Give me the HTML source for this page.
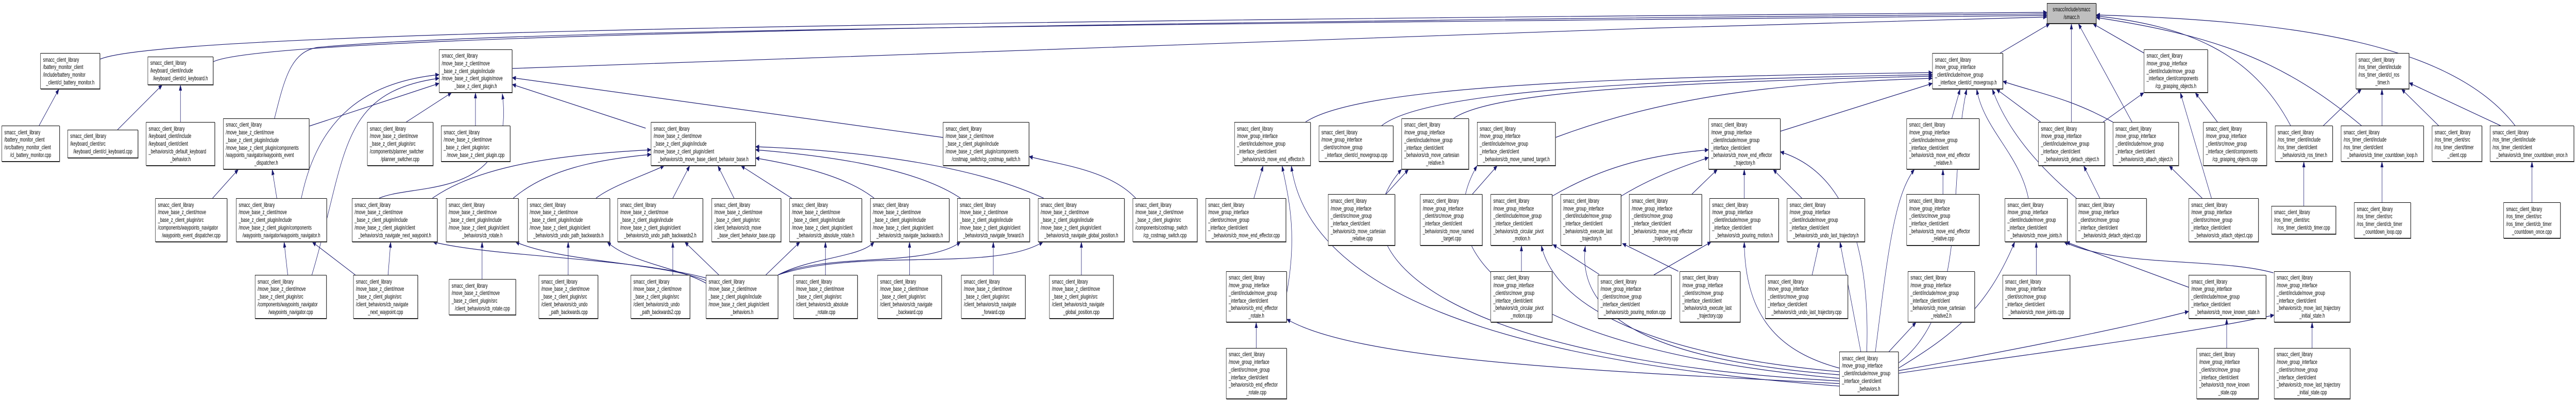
<!DOCTYPE html>
<html><head><meta charset="utf-8">
<style>
html,body{margin:0;padding:0;background:#fff;width:100%;height:100%;overflow:hidden;}
#root{position:fixed;left:0;top:0;width:100vw;height:100vh;display:block;}
.w{position:relative;width:7780px;height:777px;font-family:"Liberation Sans",Arial,sans-serif;}
.n{position:absolute;box-sizing:border-box;border:1px solid #000;box-shadow:1px 1px 0 #555;background:#fff;display:flex;flex-direction:column;justify-content:center;font-size:12px;line-height:14.7px;color:#000;white-space:nowrap;overflow:hidden;}
.n .l{padding-left:7px;}
.n .c{text-align:center;}
</style></head><body>
<svg id="root" viewBox="0 0 7780 777" preserveAspectRatio="none" xmlns="http://www.w3.org/2000/svg">
<defs><marker id="a" markerWidth="12" markerHeight="9" refX="11" refY="4.5" orient="auto" markerUnits="userSpaceOnUse"><path d="M0,0 L12,4.5 L0,9 z" fill="#191970"/></marker></defs>
<rect x="0" y="0" width="7780" height="777" fill="#fff"/>
<g fill="none" stroke="#191970" stroke-width="1.2" marker-end="url(#a)">
<path d="M302,115 C500,60 3000,40 6182,24"/>
<path d="M644,120 C800,70 3000,45 6182,27"/>
<path d="M829,230 C860,150 880,100 960,92 C1500,60 3000,50 6182,30"/>
<path d="M1547,133 C2500,110 4500,60 6182,33"/>
<path d="M118,244 L178,173"/>
<path d="M355,252 L490,165"/>
<path d="M545,237 L545,165"/>
<path d="M642,385 L720,329"/>
<path d="M836,385 L822,329"/>
<path d="M869,534 L858,470"/>
<path d="M1073,534 L943,470"/>
<path d="M1172,534 L1180,470"/>
<path d="M1456,542 L1456,470"/>
<path d="M1716,534 L1716,470"/>
<path d="M2032,534 L2032,470"/>
<path d="M1227,237 L1364,180"/>
<path d="M1436,244 L1436,180"/>
<path d="M934,245 L1326,162"/>
<path d="M910,385 C960,230 1100,160 1326,145"/>
<path d="M942,534 C1050,300 1020,180 1326,152"/>
<path d="M1145,385 C1250,355 1560,390 1517,182"/>
<path d="M1950,249 L1547,164"/>
<path d="M2848,267 L1547,151"/>
<path d="M1306,385 C1450,320 1700,300 1966,291"/>
<path d="M1550,385 C1650,330 1800,310 1966,300"/>
<path d="M1800,385 C1850,360 1950,340 2006,322"/>
<path d="M2032,385 L2083,322"/>
<path d="M2217,385 L2168,322"/>
<path d="M2391,385 L2238,322"/>
<path d="M2640,385 C2550,340 2400,320 2282,307"/>
<path d="M2901,385 C2750,320 2450,300 2282,291"/>
<path d="M3152,385 C2900,310 2500,290 2282,285"/>
<path d="M2171,534 L2068,470"/>
<path d="M2132,540 C1900,500 1500,500 1308,470"/>
<path d="M2132,545 C2000,510 1700,510 1557,470"/>
<path d="M2132,550 C2050,520 1900,510 1834,470"/>
<path d="M2313,534 L2416,470"/>
<path d="M2350,534 C2450,500 2600,500 2640,470"/>
<path d="M2350,534 C2500,490 2800,520 2901,470"/>
<path d="M2350,534 C2600,480 3000,530 3150,470"/>
<path d="M2493,534 L2493,470"/>
<path d="M2747,534 L2747,470"/>
<path d="M3000,534 L3000,470"/>
<path d="M3266,534 L3266,470"/>
<path d="M3430,385 C3350,330 3200,320 3108,304"/>
<path d="M6041,103 L6191,46"/>
<path d="M3943,237 C4100,170 4800,150 5836,141"/>
<path d="M4173,244 C4300,180 4900,155 5836,145"/>
<path d="M4390,230 C4500,180 5000,160 5836,148"/>
<path d="M4698,267 C5100,170 5500,160 5836,152"/>
<path d="M5377,255 L5836,162"/>
<path d="M5895,230 L5920,173"/>
<path d="M6126,385 C6100,300 5990,250 5970,173"/>
<path d="M6271,385 C6150,320 6060,250 6017,173"/>
<path d="M6163,237 L6029,173"/>
<path d="M6381,237 C6250,190 6150,180 6049,158"/>
<path d="M6256,237 L6256,46"/>
<path d="M6439,237 L6277,46"/>
<path d="M6475,103 L6321,46"/>
<path d="M6352,237 L6475,180"/>
<path d="M6342,385 L6293,322"/>
<path d="M6651,385 L6551,322"/>
<path d="M6679,385 L6585,180"/>
<path d="M6697,237 L6630,180"/>
<path d="M6150,534 L6150,470"/>
<path d="M6610,558 L6240,470"/>
<path d="M6866,530 C6700,500 6400,520 6234,470"/>
<path d="M6725,676 L6725,619"/>
<path d="M6983,676 L6983,626"/>
<path d="M7017,244 L7132,173"/>
<path d="M7194,244 L7194,173"/>
<path d="M7365,244 L7253,173"/>
<path d="M7552,244 L7276,161"/>
<path d="M6918,244 C6800,100 6600,50 6331,31"/>
<path d="M7132,244 C6900,120 6700,70 6331,34"/>
<path d="M7596,244 C7400,80 6900,40 6331,29"/>
<path d="M6958,400 L6958,314"/>
<path d="M7194,393 L7194,314"/>
<path d="M7647,393 L7647,314"/>
<path d="M3787,385 L3815,322"/>
<path d="M3886,570 C3920,450 3890,380 3872,322"/>
<path d="M3794,676 L3794,626"/>
<path d="M4186,377 L4254,329"/>
<path d="M4447,377 L4522,322"/>
<path d="M5555,740 C4400,700 4000,500 4233,329"/>
<path d="M5555,735 C4600,680 4300,500 4461,322"/>
<path d="M4688,381 C4850,320 5000,300 5160,291"/>
<path d="M4896,381 C5000,340 5100,320 5160,306"/>
<path d="M5110,377 L5187,329"/>
<path d="M5268,385 L5268,329"/>
<path d="M5442,385 L5355,329"/>
<path d="M4595,527 L4595,477"/>
<path d="M4830,533 L4690,475"/>
<path d="M4995,534 L5168,470"/>
<path d="M5069,527 L4900,473"/>
<path d="M5473,534 L5495,470"/>
<path d="M5555,722 C5000,690 4700,600 4655,477"/>
<path d="M5555,728 C5000,700 4760,620 4788,478"/>
<path d="M5555,715 C5350,680 5270,600 5268,470"/>
<path d="M5620,683 L5557,470"/>
<path d="M5638,683 C5650,450 5550,330 5377,295"/>
<path d="M5664,683 C5700,500 5720,380 5782,329"/>
<path d="M5705,683 L5787,626"/>
<path d="M5734,715 C5900,650 6000,600 6085,470"/>
<path d="M5734,720 C6000,690 6400,640 6610,605"/>
<path d="M5734,725 C6100,690 6600,650 6868,612"/>
<path d="M5734,705 C5950,600 5880,350 5940,173"/>
<path d="M5555,745 C4800,720 4100,700 3886,620"/>
<path d="M5555,750 C4500,700 3950,560 3900,322"/>
<path d="M5868,377 L5868,329"/>
</g>
<foreignObject x="0" y="0" width="7780" height="777">
<div xmlns="http://www.w3.org/1999/xhtml" class="w">
<div class="n" style="left:6182px;top:6px;width:149px;height:40px;background:#bfbfbf"><div class="c">smacc/include/smacc</div><div class="c">/smacc.h</div></div>

<div class="n" style="left:122px;top:103px;width:180px;height:70px"><div class="l">smacc_client_library<br/>/battery_monitor_client<br/>/include/battery_monitor</div><div class="c">_client/cl_battery_monitor.h</div></div>
<div class="n" style="left:446px;top:110px;width:198px;height:55px"><div class="l">smacc_client_library<br/>/keyboard_client/include</div><div class="c">/keyboard_client/cl_keyboard.h</div></div>
<div class="n" style="left:1326px;top:96px;width:221px;height:84px"><div class="l">smacc_client_library<br/>/move_base_z_client/move<br/>_base_z_client_plugin/include<br/>/move_base_z_client_plugin/move</div><div class="c">_base_z_client_plugin.h</div></div>
<div class="n" style="left:5836px;top:103px;width:213px;height:70px"><div class="l">smacc_client_library<br/>/move_group_interface<br/>_client/include/move_group</div><div class="c">_interface_client/cl_movegroup.h</div></div>
<div class="n" style="left:6475px;top:96px;width:193px;height:84px"><div class="l">smacc_client_library<br/>/move_group_interface<br/>_client/include/move_group<br/>_interface_client/components</div><div class="c">/cp_grasping_objects.h</div></div>
<div class="n" style="left:7115px;top:103px;width:161px;height:70px"><div class="l">smacc_client_library<br/>/ros_timer_client/include<br/>/ros_timer_client/cl_ros</div><div class="c">_timer.h</div></div>

<div class="n" style="left:5px;top:244px;width:175px;height:70px"><div class="l">smacc_client_library<br/>/battery_monitor_client<br/>/src/battery_monitor_client</div><div class="c">/cl_battery_monitor.cpp</div></div>
<div class="n" style="left:204px;top:252px;width:213px;height:55px"><div class="l">smacc_client_library<br/>/keyboard_client/src</div><div class="c">/keyboard_client/cl_keyboard.cpp</div></div>
<div class="n" style="left:441px;top:237px;width:208px;height:85px"><div class="l">smacc_client_library<br/>/keyboard_client/include<br/>/keyboard_client/client<br/>_behaviors/cb_default_keyboard</div><div class="c">_behavior.h</div></div>
<div class="n" style="left:674px;top:230px;width:260px;height:99px"><div class="l">smacc_client_library<br/>/move_base_z_client/move<br/>_base_z_client_plugin/include<br/>/move_base_z_client_plugin/components<br/>/waypoints_navigator/waypoints_event</div><div class="c">_dispatcher.h</div></div>
<div class="n" style="left:1109px;top:237px;width:199px;height:85px"><div class="l">smacc_client_library<br/>/move_base_z_client/move<br/>_base_z_client_plugin/src<br/>/components/planner_switcher</div><div class="c">/planner_switcher.cpp</div></div>
<div class="n" style="left:1332px;top:244px;width:209px;height:70px"><div class="l">smacc_client_library<br/>/move_base_z_client/move<br/>_base_z_client_plugin/src</div><div class="c">/move_base_z_client_plugin.cpp</div></div>
<div class="n" style="left:1966px;top:237px;width:316px;height:85px"><div class="l">smacc_client_library<br/>/move_base_z_client/move<br/>_base_z_client_plugin/include<br/>/move_base_z_client_plugin/client</div><div class="c">_behaviors/cb_move_base_client_behavior_base.h</div></div>
<div class="n" style="left:2848px;top:237px;width:260px;height:85px"><div class="l">smacc_client_library<br/>/move_base_z_client/move<br/>_base_z_client_plugin/include<br/>/move_base_z_client_plugin/components</div><div class="c">/costmap_switch/cp_costmap_switch.h</div></div>
<div class="n" style="left:3728px;top:237px;width:230px;height:85px"><div class="l">smacc_client_library<br/>/move_group_interface<br/>_client/include/move_group<br/>_interface_client/client</div><div class="c">_behaviors/cb_move_end_effector.h</div></div>
<div class="n" style="left:3983px;top:244px;width:225px;height:70px"><div class="l">smacc_client_library<br/>/move_group_interface<br/>_client/src/move_group</div><div class="c">_interface_client/cl_movegroup.cpp</div></div>
<div class="n" style="left:4233px;top:230px;width:203px;height:99px"><div class="l">smacc_client_library<br/>/move_group_interface<br/>_client/include/move_group<br/>_interface_client/client<br/>_behaviors/cb_move_cartesian</div><div class="c">_relative.h</div></div>
<div class="n" style="left:4461px;top:237px;width:237px;height:85px"><div class="l">smacc_client_library<br/>/move_group_interface<br/>_client/include/move_group<br/>_interface_client/client</div><div class="c">_behaviors/cb_move_named_target.h</div></div>
<div class="n" style="left:5160px;top:230px;width:217px;height:99px"><div class="l">smacc_client_library<br/>/move_group_interface<br/>_client/include/move_group<br/>_interface_client/client<br/>_behaviors/cb_move_end_effector</div><div class="c">_trajectory.h</div></div>
<div class="n" style="left:5758px;top:230px;width:220px;height:99px"><div class="l">smacc_client_library<br/>/move_group_interface<br/>_client/include/move_group<br/>_interface_client/client<br/>_behaviors/cb_move_end_effector</div><div class="c">_relative.h</div></div>
<div class="n" style="left:6156px;top:237px;width:201px;height:85px"><div class="l">smacc_client_library<br/>/move_group_interface<br/>_client/include/move_group<br/>_interface_client/client</div><div class="c">_behaviors/cb_detach_object.h</div></div>
<div class="n" style="left:6381px;top:237px;width:199px;height:85px"><div class="l">smacc_client_library<br/>/move_group_interface<br/>_client/include/move_group<br/>_interface_client/client</div><div class="c">_behaviors/cb_attach_object.h</div></div>
<div class="n" style="left:6654px;top:237px;width:192px;height:85px"><div class="l">smacc_client_library<br/>/move_group_interface<br/>_client/src/move_group<br/>_interface_client/components</div><div class="c">/cp_grasping_objects.cpp</div></div>
<div class="n" style="left:6871px;top:244px;width:174px;height:70px"><div class="l">smacc_client_library<br/>/ros_timer_client/include<br/>/ros_timer_client/client</div><div class="c">_behaviors/cb_ros_timer.h</div></div>
<div class="n" style="left:7070px;top:244px;width:250px;height:70px"><div class="l">smacc_client_library<br/>/ros_timer_client/include<br/>/ros_timer_client/client</div><div class="c">_behaviors/cb_timer_countdown_loop.h</div></div>
<div class="n" style="left:7345px;top:244px;width:151px;height:70px"><div class="l">smacc_client_library<br/>/ros_timer_client/src<br/>/ros_timer_client/timer</div><div class="c">_client.cpp</div></div>
<div class="n" style="left:7520px;top:244px;width:254px;height:70px"><div class="l">smacc_client_library<br/>/ros_timer_client/include<br/>/ros_timer_client/client</div><div class="c">_behaviors/cb_timer_countdown_once.h</div></div>

<div class="n" style="left:469px;top:385px;width:217px;height:85px"><div class="l">smacc_client_library<br/>/move_base_z_client/move<br/>_base_z_client_plugin/src<br/>/components/waypoints_navigator</div><div class="c">/waypoints_event_dispatcher.cpp</div></div>
<div class="n" style="left:713px;top:385px;width:274px;height:85px"><div class="l">smacc_client_library<br/>/move_base_z_client/move<br/>_base_z_client_plugin/include<br/>/move_base_z_client_plugin/components</div><div class="c">/waypoints_navigator/waypoints_navigator.h</div></div>
<div class="n" style="left:1063px;top:385px;width:258px;height:85px"><div class="l">smacc_client_library<br/>/move_base_z_client/move<br/>_base_z_client_plugin/include<br/>/move_base_z_client_plugin/client</div><div class="c">_behaviors/cb_navigate_next_waypoint.h</div></div>
<div class="n" style="left:1347px;top:385px;width:219px;height:85px"><div class="l">smacc_client_library<br/>/move_base_z_client/move<br/>_base_z_client_plugin/include<br/>/move_base_z_client_plugin/client</div><div class="c">_behaviors/cb_rotate.h</div></div>
<div class="n" style="left:1592px;top:385px;width:250px;height:85px"><div class="l">smacc_client_library<br/>/move_base_z_client/move<br/>_base_z_client_plugin/include<br/>/move_base_z_client_plugin/client</div><div class="c">_behaviors/cb_undo_path_backwards.h</div></div>
<div class="n" style="left:1865px;top:385px;width:258px;height:85px"><div class="l">smacc_client_library<br/>/move_base_z_client/move<br/>_base_z_client_plugin/include<br/>/move_base_z_client_plugin/client</div><div class="c">_behaviors/cb_undo_path_backwards2.h</div></div>
<div class="n" style="left:2149px;top:385px;width:210px;height:85px"><div class="l">smacc_client_library<br/>/move_base_z_client/move<br/>_base_z_client_plugin/src<br/>/client_behaviors/cb_move</div><div class="c">_base_client_behavior_base.cpp</div></div>
<div class="n" style="left:2384px;top:385px;width:219px;height:85px"><div class="l">smacc_client_library<br/>/move_base_z_client/move<br/>_base_z_client_plugin/include<br/>/move_base_z_client_plugin/client</div><div class="c">_behaviors/cb_absolute_rotate.h</div></div>
<div class="n" style="left:2628px;top:385px;width:239px;height:85px"><div class="l">smacc_client_library<br/>/move_base_z_client/move<br/>_base_z_client_plugin/include<br/>/move_base_z_client_plugin/client</div><div class="c">_behaviors/cb_navigate_backwards.h</div></div>
<div class="n" style="left:2891px;top:385px;width:219px;height:85px"><div class="l">smacc_client_library<br/>/move_base_z_client/move<br/>_base_z_client_plugin/include<br/>/move_base_z_client_plugin/client</div><div class="c">_behaviors/cb_navigate_forward.h</div></div>
<div class="n" style="left:3135px;top:385px;width:261px;height:85px"><div class="l">smacc_client_library<br/>/move_base_z_client/move<br/>_base_z_client_plugin/include<br/>/move_base_z_client_plugin/client</div><div class="c">_behaviors/cb_navigate_global_position.h</div></div>
<div class="n" style="left:3421px;top:385px;width:195px;height:85px"><div class="l">smacc_client_library<br/>/move_base_z_client/move<br/>_base_z_client_plugin/src<br/>/components/costmap_switch</div><div class="c">/cp_costmap_switch.cpp</div></div>
<div class="n" style="left:3641px;top:385px;width:243px;height:85px"><div class="l">smacc_client_library<br/>/move_group_interface<br/>_client/src/move_group<br/>_interface_client/client</div><div class="c">_behaviors/cb_move_end_effector.cpp</div></div>
<div class="n" style="left:4011px;top:377px;width:202px;height:100px"><div class="l">smacc_client_library<br/>/move_group_interface<br/>_client/src/move_group<br/>_interface_client/client<br/>_behaviors/cb_move_cartesian</div><div class="c">_relative.cpp</div></div>
<div class="n" style="left:4289px;top:377px;width:188px;height:100px"><div class="l">smacc_client_library<br/>/move_group_interface<br/>_client/src/move_group<br/>_interface_client/client<br/>_behaviors/cb_move_named</div><div class="c">_target.cpp</div></div>
<div class="n" style="left:4502px;top:377px;width:186px;height:100px"><div class="l">smacc_client_library<br/>/move_group_interface<br/>_client/include/move_group<br/>_interface_client/client<br/>_behaviors/cb_circular_pivot</div><div class="c">_motion.h</div></div>
<div class="n" style="left:4713px;top:377px;width:183px;height:100px"><div class="l">smacc_client_library<br/>/move_group_interface<br/>_client/include/move_group<br/>_interface_client/client<br/>_behaviors/cb_execute_last</div><div class="c">_trajectory.h</div></div>
<div class="n" style="left:4920px;top:377px;width:220px;height:100px"><div class="l">smacc_client_library<br/>/move_group_interface<br/>_client/src/move_group<br/>_interface_client/client<br/>_behaviors/cb_move_end_effector</div><div class="c">_trajectory.cpp</div></div>
<div class="n" style="left:5163px;top:385px;width:209px;height:85px"><div class="l">smacc_client_library<br/>/move_group_interface<br/>_client/include/move_group<br/>_interface_client/client</div><div class="c">_behaviors/cb_pouring_motion.h</div></div>
<div class="n" style="left:5397px;top:385px;width:235px;height:85px"><div class="l">smacc_client_library<br/>/move_group_interface<br/>_client/include/move_group<br/>_interface_client/client</div><div class="c">_behaviors/cb_undo_last_trajectory.h</div></div>
<div class="n" style="left:5758px;top:377px;width:220px;height:100px"><div class="l">smacc_client_library<br/>/move_group_interface<br/>_client/src/move_group<br/>_interface_client/client<br/>_behaviors/cb_move_end_effector</div><div class="c">_relative.cpp</div></div>
<div class="n" style="left:6055px;top:385px;width:189px;height:85px"><div class="l">smacc_client_library<br/>/move_group_interface<br/>_client/include/move_group<br/>_interface_client/client</div><div class="c">_behaviors/cb_move_joints.h</div></div>
<div class="n" style="left:6269px;top:385px;width:214px;height:85px"><div class="l">smacc_client_library<br/>/move_group_interface<br/>_client/src/move_group<br/>_interface_client/client</div><div class="c">_behaviors/cb_detach_object.cpp</div></div>
<div class="n" style="left:6610px;top:385px;width:211px;height:85px"><div class="l">smacc_client_library<br/>/move_group_interface<br/>_client/src/move_group<br/>_interface_client/client</div><div class="c">_behaviors/cb_attach_object.cpp</div></div>
<div class="n" style="left:6860px;top:400px;width:195px;height:55px"><div class="l">smacc_client_library<br/>/ros_timer_client/src</div><div class="c">/ros_timer_client/cb_timer.cpp</div></div>
<div class="n" style="left:7110px;top:393px;width:171px;height:70px"><div class="l">smacc_client_library<br/>/ros_timer_client/src<br/>/ros_timer_client/cb_timer</div><div class="c">_countdown_loop.cpp</div></div>
<div class="n" style="left:7561px;top:393px;width:172px;height:70px"><div class="l">smacc_client_library<br/>/ros_timer_client/src<br/>/ros_timer_client/cb_timer</div><div class="c">_countdown_once.cpp</div></div>

<div class="n" style="left:770px;top:534px;width:216px;height:85px"><div class="l">smacc_client_library<br/>/move_base_z_client/move<br/>_base_z_client_plugin/src<br/>/components/waypoints_navigator</div><div class="c">/waypoints_navigator.cpp</div></div>
<div class="n" style="left:1067px;top:534px;width:195px;height:85px"><div class="l">smacc_client_library<br/>/move_base_z_client/move<br/>_base_z_client_plugin/src<br/>/client_behaviors/cb_navigate</div><div class="c">_next_waypoint.cpp</div></div>
<div class="n" style="left:1356px;top:542px;width:202px;height:70px"><div class="l">smacc_client_library<br/>/move_base_z_client/move<br/>_base_z_client_plugin/src</div><div class="c">/client_behaviors/cb_rotate.cpp</div></div>
<div class="n" style="left:1627px;top:534px;width:179px;height:85px"><div class="l">smacc_client_library<br/>/move_base_z_client/move<br/>_base_z_client_plugin/src<br/>/client_behaviors/cb_undo</div><div class="c">_path_backwards.cpp</div></div>
<div class="n" style="left:1905px;top:534px;width:179px;height:85px"><div class="l">smacc_client_library<br/>/move_base_z_client/move<br/>_base_z_client_plugin/src<br/>/client_behaviors/cb_undo</div><div class="c">_path_backwards2.cpp</div></div>
<div class="n" style="left:2132px;top:534px;width:218px;height:85px"><div class="l">smacc_client_library<br/>/move_base_z_client/move<br/>_base_z_client_plugin/include<br/>/move_base_z_client_plugin/client</div><div class="c">_behaviors.h</div></div>
<div class="n" style="left:2396px;top:534px;width:194px;height:85px"><div class="l">smacc_client_library<br/>/move_base_z_client/move<br/>_base_z_client_plugin/src<br/>/client_behaviors/cb_absolute</div><div class="c">_rotate.cpp</div></div>
<div class="n" style="left:2650px;top:534px;width:194px;height:85px"><div class="l">smacc_client_library<br/>/move_base_z_client/move<br/>_base_z_client_plugin/src<br/>/client_behaviors/cb_navigate</div><div class="c">_backward.cpp</div></div>
<div class="n" style="left:2903px;top:534px;width:194px;height:85px"><div class="l">smacc_client_library<br/>/move_base_z_client/move<br/>_base_z_client_plugin/src<br/>/client_behaviors/cb_navigate</div><div class="c">_forward.cpp</div></div>
<div class="n" style="left:3169px;top:534px;width:194px;height:85px"><div class="l">smacc_client_library<br/>/move_base_z_client/move<br/>_base_z_client_plugin/src<br/>/client_behaviors/cb_navigate</div><div class="c">_global_position.cpp</div></div>
<div class="n" style="left:3703px;top:527px;width:183px;height:99px"><div class="l">smacc_client_library<br/>/move_group_interface<br/>_client/include/move_group<br/>_interface_client/client<br/>_behaviors/cb_end_effector</div><div class="c">_rotate.h</div></div>
<div class="n" style="left:4502px;top:527px;width:186px;height:99px"><div class="l">smacc_client_library<br/>/move_group_interface<br/>_client/src/move_group<br/>_interface_client/client<br/>_behaviors/cb_circular_pivot</div><div class="c">_motion.cpp</div></div>
<div class="n" style="left:4826px;top:534px;width:222px;height:85px"><div class="l">smacc_client_library<br/>/move_group_interface<br/>_client/src/move_group<br/>_interface_client/client</div><div class="c">_behaviors/cb_pouring_motion.cpp</div></div>
<div class="n" style="left:5073px;top:527px;width:183px;height:99px"><div class="l">smacc_client_library<br/>/move_group_interface<br/>_client/src/move_group<br/>_interface_client/client<br/>_behaviors/cb_execute_last</div><div class="c">_trajectory.cpp</div></div>
<div class="n" style="left:5331px;top:534px;width:250px;height:85px"><div class="l">smacc_client_library<br/>/move_group_interface<br/>_client/src/move_group<br/>_interface_client/client</div><div class="c">_behaviors/cb_undo_last_trajectory.cpp</div></div>
<div class="n" style="left:5762px;top:527px;width:202px;height:99px"><div class="l">smacc_client_library<br/>/move_group_interface<br/>_client/include/move_group<br/>_interface_client/client<br/>_behaviors/cb_move_cartesian</div><div class="c">_relative2.h</div></div>
<div class="n" style="left:6048px;top:534px;width:204px;height:85px"><div class="l">smacc_client_library<br/>/move_group_interface<br/>_client/src/move_group<br/>_interface_client/client</div><div class="c">_behaviors/cb_move_joints.cpp</div></div>
<div class="n" style="left:6610px;top:534px;width:234px;height:85px"><div class="l">smacc_client_library<br/>/move_group_interface<br/>_client/include/move_group<br/>_interface_client/client</div><div class="c">_behaviors/cb_move_known_state.h</div></div>
<div class="n" style="left:6868px;top:527px;width:230px;height:99px"><div class="l">smacc_client_library<br/>/move_group_interface<br/>_client/include/move_group<br/>_interface_client/client<br/>_behaviors/cb_move_last_trajectory</div><div class="c">_initial_state.h</div></div>

<div class="n" style="left:3703px;top:676px;width:183px;height:99px"><div class="l">smacc_client_library<br/>/move_group_interface<br/>_client/src/move_group<br/>_interface_client/client<br/>_behaviors/cb_end_effector</div><div class="c">_rotate.cpp</div></div>
<div class="n" style="left:5555px;top:683px;width:179px;height:85px"><div class="l">smacc_client_library<br/>/move_group_interface<br/>_client/include/move_group<br/>_interface_client/client</div><div class="c">_behaviors.h</div></div>
<div class="n" style="left:6634px;top:676px;width:187px;height:99px"><div class="l">smacc_client_library<br/>/move_group_interface<br/>_client/src/move_group<br/>_interface_client/client<br/>_behaviors/cb_move_known</div><div class="c">_state.cpp</div></div>
<div class="n" style="left:6868px;top:676px;width:230px;height:99px"><div class="l">smacc_client_library<br/>/move_group_interface<br/>_client/src/move_group<br/>_interface_client/client<br/>_behaviors/cb_move_last_trajectory</div><div class="c">_initial_state.cpp</div></div>
</div>
</foreignObject>
</svg>
</body></html>
